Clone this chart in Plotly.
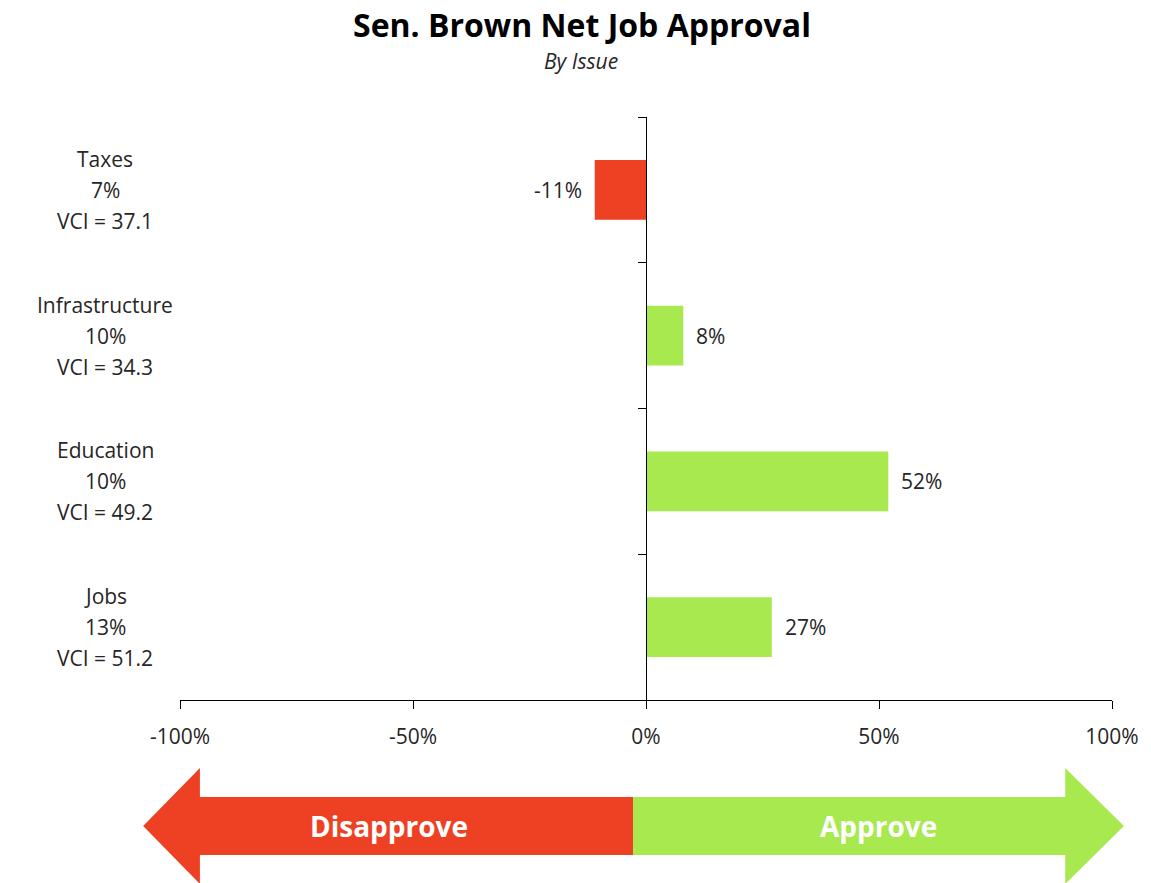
import plotly.graph_objects as go

# ---- data ----
issues = ["Taxes", "Infrastructure", "Education", "Jobs"]
issue_share = ["7%", "10%", "10%", "13%"]
vci = [37.1, 34.3, 49.2, 51.2]
net_approval = [-11, 8, 52, 27]
x_ticks = [-100, -50, 0, 50, 100]

RED = "#EE4124"
GREEN = "#A8E950"
TEXT = "#262626"
FONT = "Open Sans"

W, H = 1151, 883
PLOT_L, PLOT_R, PLOT_T, PLOT_B = 180, 1116, 117, 700   # reference pixels
L, T = PLOT_L, PLOT_T
R, B = W - PLOT_R, H - PLOT_B
PW, PH = PLOT_R - PLOT_L, PLOT_B - PLOT_T


def px(x):
    return (x - PLOT_L) / PW


def py(y):
    return (PLOT_B - y) / PH


colors = [RED if v < 0 else GREEN for v in net_approval]

fig = go.Figure()
fig.add_trace(go.Bar(
    y=issues, x=net_approval, orientation="h",
    marker=dict(color=colors, line=dict(width=0)),
    width=0.41, hoverinfo="x+y",
))

annotations = []
# value labels
for name, v in zip(issues, net_approval):
    annotations.append(dict(
        x=v, y=name, xref="x", yref="y", text=f"{v}%", showarrow=False,
        xanchor="right" if v < 0 else "left", xshift=-11 if v < 0 else 11,
        font=dict(family=FONT, size=21, color=TEXT),
    ))
# category labels (three lines each)
for name, share, c in zip(issues, issue_share, vci):
    for line, shift in zip([name, share, f"VCI = {c}"], [31, 0, -31]):
        annotations.append(dict(
            x=px(105), y=name, xref="paper", yref="y", text=line,
            showarrow=False, xanchor="center", yshift=shift,
            font=dict(family=FONT, size=21, color=TEXT),
        ))
# title / subtitle
annotations.append(dict(x=px(584), y=py(25), xref="paper", yref="paper",
                        text="<b>Sen. Brown Net Job Approval</b>", showarrow=False,
                        xanchor="center", yanchor="middle",
                        font=dict(family=FONT, size=32, color="#000000")))
annotations.append(dict(x=px(583), y=py(61), xref="paper", yref="paper",
                        text="<i>By Issue</i>", showarrow=False,
                        xanchor="center", yanchor="middle",
                        font=dict(family=FONT, size=21, color=TEXT)))
# arrow labels
annotations.append(dict(x=px(390), y=py(826), xref="paper", yref="paper",
                        text="<b>Disapprove</b>", showarrow=False,
                        xanchor="center", yanchor="middle",
                        font=dict(family=FONT, size=28, color="#FFFFFF")))
annotations.append(dict(x=px(881), y=py(826), xref="paper", yref="paper",
                        text="<b>Approve</b>", showarrow=False,
                        xanchor="center", yanchor="middle",
                        font=dict(family=FONT, size=28, color="#FFFFFF")))


def path(pts):
    return "M " + " L ".join(f"{px(a):.5f},{py(b):.5f}" for a, b in pts) + " Z"


red_arrow = [(143, 826), (200, 768), (200, 797), (635, 797), (635, 855), (200, 855), (200, 884)]
green_arrow = [(635, 797), (1069, 797), (1069, 768), (1128, 826), (1069, 884), (1069, 855), (635, 855)]
shapes = [
    dict(type="path", xref="paper", yref="paper", path=path(red_arrow),
         fillcolor=RED, line=dict(width=0), layer="below"),
    dict(type="path", xref="paper", yref="paper", path=path(green_arrow),
         fillcolor=GREEN, line=dict(width=0), layer="below"),
]

fig.update_layout(
    width=W, height=H,
    margin=dict(l=L, r=R, t=T, b=B),
    paper_bgcolor="white", plot_bgcolor="white",
    showlegend=False,
    annotations=annotations,
    shapes=shapes,
    xaxis=dict(
        range=[-100, 100], tickvals=x_ticks, ticktext=[f"{t}%" for t in x_ticks],
        showgrid=False, zeroline=False, showline=True, linecolor="#000000", linewidth=1,
        ticks="outside", ticklen=8, tickcolor="#000000", tickwidth=1,
        tickfont=dict(family=FONT, size=21, color=TEXT), ticklabelstandoff=10,
        fixedrange=True,
    ),
    yaxis=dict(
        categoryorder="array", categoryarray=issues, autorange="reversed",
        anchor="free", position=0.5,
        showgrid=False, zeroline=False, showline=True, linecolor="#000000", linewidth=1,
        ticks="outside", ticklen=8, tickcolor="#000000", tickwidth=1,
        tickson="boundaries", showticklabels=False, fixedrange=True,
    ),
)

fig.write_html(
    "out.html",
    config={"displayModeBar": False},
    post_script="document.body.style.margin='0';document.body.style.overflow='hidden';",
)
